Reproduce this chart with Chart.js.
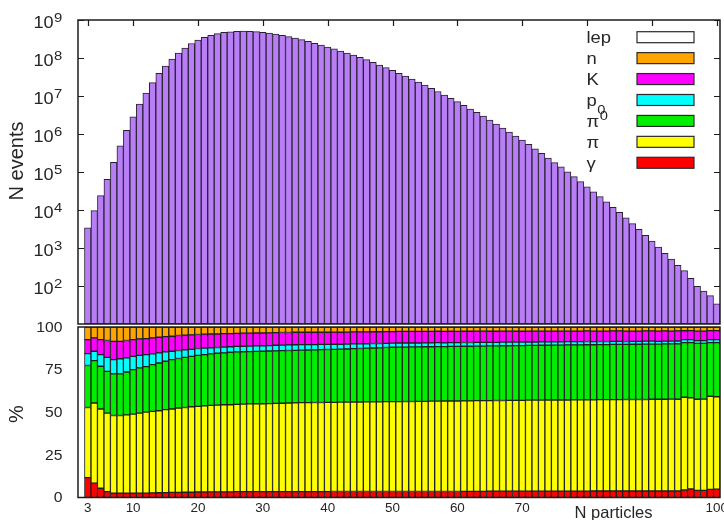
<!DOCTYPE html>
<html>
<head>
<meta charset="utf-8">
<title>Event multiplicity and particle composition</title>
<script src="https://cdn.jsdelivr.net/npm/chart.js@4.4.1/dist/chart.umd.min.js"></script>
<style>
  html, body { margin: 0; padding: 0; background: #ffffff; overflow: hidden; }
  #page { position: relative; width: 724px; height: 520px; }
  .panel { position: absolute; left: 0; width: 724px; }
  #eventsBox { top: 0; height: 325px; }
  #shareBox { top: 305px; height: 215px; }
</style>
</head>
<body>
<div id="page">
  <div class="panel" id="eventsBox"><canvas id="eventsChart"></canvas></div>
  <div class="panel" id="shareBox"><canvas id="shareChart"></canvas></div>
</div>
<script>
// ---- data -------------------------------------------------------------
const nParticles = [
  3, 4, 5, 6, 7, 8, 9, 10, 11, 12,
  13, 14, 15, 16, 17, 18, 19, 20, 21, 22,
  23, 24, 25, 26, 27, 28, 29, 30, 31, 32,
  33, 34, 35, 36, 37, 38, 39, 40, 41, 42,
  43, 44, 45, 46, 47, 48, 49, 50, 51, 52,
  53, 54, 55, 56, 57, 58, 59, 60, 61, 62,
  63, 64, 65, 66, 67, 68, 69, 70, 71, 72,
  73, 74, 75, 76, 77, 78, 79, 80, 81, 82,
  83, 84, 85, 86, 87, 88, 89, 90, 91, 92,
  93, 94, 95, 96, 97, 98, 99, 100
];
const xTickValues = [3, 10, 20, 30, 40, 50, 60, 70, 80, 90, 100];
const eventDecades = [2, 3, 4, 5, 6, 7, 8, 9];
const percentTicks = [0, 25, 50, 75, 100];

// number of events per multiplicity
const nEvents = [
  3420, 9590, 23800, 64300, 1.80e5, 4.92e5, 1.25e6, 2.85e6, 6.15e6, 1.20e7,
  2.24e7, 3.96e7, 6.16e7, 9.42e7, 1.35e8, 1.83e8, 2.41e8, 2.94e8, 3.51e8, 3.96e8,
  4.36e8, 4.72e8, 4.92e8, 5.07e8, 5.14e8, 5.07e8, 4.95e8, 4.75e8, 4.50e8, 4.23e8,
  3.96e8, 3.66e8, 3.36e8, 3.05e8, 2.75e8, 2.45e8, 2.20e8, 1.95e8, 1.73e8, 1.53e8,
  1.35e8, 1.19e8, 1.04e8, 9.02e7, 7.71e7, 6.55e7, 5.56e7, 4.72e7, 3.96e7, 3.32e7,
  2.79e7, 2.32e7, 1.94e7, 1.60e7, 1.31e7, 1.06e7, 8.69e6, 7.08e6, 5.69e6, 4.55e6,
  3.72e6, 2.98e6, 2.34e6, 1.83e6, 1.44e6, 1.13e6, 8.86e5, 6.95e5, 5.36e5, 4.10e5,
  3.10e5, 2.34e5, 1.76e5, 1.36e5, 1.01e5, 7.52e4, 5.56e4, 4.10e4, 3.03e4, 2.24e4,
  1.63e4, 1.18e4, 8700, 6240, 4390, 3100, 2160, 1530, 1060, 726,
  514, 352, 253, 160, 98, 74, 56, 34
];

// share of each particle species, percent
const shareGamma = [
  11.7, 8.4, 5.4, 3.4, 2.5, 2.5, 2.5, 2.5, 2.6, 2.6,
  2.7, 2.8, 2.9, 3.0, 3.0, 3.1, 3.1, 3.2, 3.2, 3.3,
  3.3, 3.3, 3.3, 3.4, 3.4, 3.4, 3.4, 3.4, 3.4, 3.4,
  3.4, 3.4, 3.4, 3.4, 3.4, 3.4, 3.4, 3.4, 3.5, 3.5,
  3.5, 3.5, 3.5, 3.5, 3.5, 3.5, 3.5, 3.5, 3.5, 3.5,
  3.5, 3.5, 3.5, 3.5, 3.5, 3.5, 3.5, 3.5, 3.6, 3.6,
  3.6, 3.6, 3.7, 3.7, 3.7, 3.7, 3.7, 3.7, 3.7, 3.7,
  3.7, 3.7, 3.7, 3.7, 3.7, 3.7, 3.7, 3.7, 3.8, 3.8,
  3.8, 3.8, 3.8, 3.8, 3.8, 3.8, 3.8, 3.8, 3.8, 3.8,
  3.8, 3.8, 4.4, 5.0, 4.2, 4.2, 4.8, 4.9
];
const sharePi = [
  41.1, 47.0, 46.5, 46.1, 45.6, 45.6, 46.0, 46.4, 46.9, 47.5,
  47.8, 48.1, 48.6, 48.9, 49.5, 49.7, 50.1, 50.2, 50.6, 50.7,
  50.9, 51.1, 51.1, 51.2, 51.4, 51.5, 51.6, 51.6, 51.7, 51.8,
  51.9, 52.0, 52.1, 52.2, 52.2, 52.3, 52.3, 52.4, 52.3, 52.4,
  52.4, 52.5, 52.5, 52.6, 52.6, 52.6, 52.7, 52.7, 52.7, 52.8,
  52.8, 52.9, 52.9, 53.0, 53.0, 53.1, 53.1, 53.1, 53.1, 53.1,
  53.2, 53.2, 53.1, 53.2, 53.2, 53.3, 53.3, 53.3, 53.4, 53.4,
  53.4, 53.5, 53.5, 53.5, 53.5, 53.6, 53.6, 53.6, 53.5, 53.6,
  53.6, 53.6, 53.6, 53.7, 53.7, 53.7, 53.7, 53.8, 53.8, 53.8,
  53.9, 53.8, 54.4, 53.5, 53.4, 53.5, 54.6, 54.2
];
const sharePi0 = [
  24.6, 24.9, 25.1, 24.5, 24.4, 24.4, 25.1, 26.1, 26.5, 26.7,
  27.4, 28.0, 28.4, 29.0, 29.0, 29.4, 29.6, 30.0, 30.0, 30.2,
  30.4, 30.4, 30.8, 30.8, 30.7, 30.7, 30.7, 30.8, 30.8, 30.8,
  30.8, 30.8, 30.8, 30.8, 30.9, 30.9, 31.0, 31.0, 31.1, 31.1,
  31.2, 31.3, 31.4, 31.5, 31.6, 31.7, 31.8, 31.9, 32.0, 31.9,
  32.0, 31.9, 32.0, 31.9, 32.0, 31.9, 32.0, 32.0, 32.0, 32.0,
  32.0, 32.0, 32.1, 32.0, 32.1, 32.0, 32.1, 32.1, 32.1, 32.1,
  32.2, 32.1, 32.2, 32.2, 32.3, 32.2, 32.2, 32.3, 32.3, 32.3,
  32.3, 32.4, 32.4, 32.3, 32.4, 32.4, 32.5, 32.4, 32.4, 32.5,
  32.4, 32.6, 32.0, 32.3, 32.8, 32.7, 31.4, 31.7
];
const shareP0 = [
  7.0, 5.5, 6.8, 8.2, 8.4, 8.9, 8.3, 7.8, 7.4, 7.0,
  6.3, 5.9, 5.5, 4.9, 4.7, 4.4, 4.1, 4.0, 3.8, 3.6,
  3.4, 3.4, 3.2, 3.2, 3.2, 3.2, 3.2, 3.2, 3.2, 3.3,
  3.3, 3.3, 3.3, 3.3, 3.2, 3.1, 3.1, 3.0, 3.0, 2.9,
  2.9, 2.8, 2.7, 2.6, 2.6, 2.5, 2.4, 2.4, 2.4, 2.4,
  2.3, 2.3, 2.3, 2.3, 2.3, 2.2, 2.2, 2.2, 2.2, 2.2,
  2.2, 2.2, 2.1, 2.1, 2.1, 2.1, 2.0, 2.0, 2.0, 2.0,
  2.0, 2.0, 1.9, 1.9, 1.9, 1.9, 1.9, 1.9, 1.8, 1.8,
  1.8, 1.8, 1.8, 1.7, 1.7, 1.7, 1.7, 1.7, 1.6, 1.6,
  1.6, 1.6, 1.8, 1.8, 1.6, 1.6, 1.8, 1.8
];
const shareK = [
  8.2, 7.8, 8.8, 9.9, 10.7, 10.2, 10.2, 9.8, 9.6, 9.4,
  9.4, 9.2, 9.0, 8.8, 8.8, 8.6, 8.5, 8.2, 8.2, 8.1,
  7.9, 7.9, 7.7, 7.7, 7.7, 7.6, 7.6, 7.5, 7.5, 7.4,
  7.4, 7.3, 7.3, 7.2, 7.2, 7.2, 7.1, 7.1, 7.1, 7.0,
  7.0, 7.0, 7.0, 6.9, 6.9, 6.9, 6.9, 6.8, 6.8, 6.8,
  6.8, 6.8, 6.7, 6.7, 6.7, 6.7, 6.7, 6.6, 6.6, 6.6,
  6.6, 6.6, 6.5, 6.5, 6.5, 6.5, 6.4, 6.4, 6.4, 6.4,
  6.3, 6.3, 6.3, 6.3, 6.2, 6.2, 6.2, 6.2, 6.2, 6.1,
  6.1, 6.1, 6.1, 6.1, 6.0, 6.0, 6.0, 6.0, 6.0, 6.0,
  5.9, 5.9, 5.2, 5.3, 5.6, 5.6, 5.3, 5.3
];
const shareN = [
  7.4, 6.4, 7.4, 7.9, 8.4, 8.4, 7.9, 7.4, 7.0, 6.8,
  6.4, 6.0, 5.6, 5.4, 5.0, 4.8, 4.6, 4.4, 4.2, 4.1,
  4.1, 3.9, 3.9, 3.7, 3.6, 3.6, 3.5, 3.5, 3.4, 3.3,
  3.2, 3.2, 3.1, 3.1, 3.1, 3.1, 3.1, 3.1, 3.0, 3.1,
  3.0, 2.9, 2.9, 2.9, 2.8, 2.8, 2.7, 2.7, 2.6, 2.6,
  2.6, 2.6, 2.6, 2.6, 2.5, 2.6, 2.5, 2.6, 2.5, 2.5,
  2.4, 2.4, 2.5, 2.5, 2.4, 2.4, 2.5, 2.5, 2.4, 2.4,
  2.4, 2.4, 2.4, 2.4, 2.4, 2.4, 2.4, 2.3, 2.4, 2.4,
  2.4, 2.3, 2.3, 2.4, 2.4, 2.4, 2.3, 2.3, 2.4, 2.3,
  2.4, 2.3, 2.2, 2.1, 2.4, 2.4, 2.1, 2.1
];
const shareLep = [
  0, 0, 0, 0, 0, 0, 0, 0, 0, 0,
  0, 0, 0, 0, 0, 0, 0, 0, 0, 0,
  0, 0, 0, 0, 0, 0, 0, 0, 0, 0,
  0, 0, 0, 0, 0, 0, 0, 0, 0, 0,
  0, 0, 0, 0, 0, 0, 0, 0, 0, 0,
  0, 0, 0, 0, 0, 0, 0, 0, 0, 0,
  0, 0, 0, 0, 0, 0, 0, 0, 0, 0,
  0, 0, 0, 0, 0, 0, 0, 0, 0, 0,
  0, 0, 0, 0, 0, 0, 0, 0, 0, 0,
  0, 0, 0, 0, 0, 0, 0, 0
];

// species, stacked from the bottom up ('_' subscript, '^' superscript)
const speciesLabels = ['γ', 'π', 'π^0', 'p_0', 'K', 'n', 'lep'];
const speciesShares = [shareGamma, sharePi, sharePi0, shareP0, shareK, shareN, shareLep];
const speciesColors = ['#ff0000', '#ffff00', '#00ee00', '#00ffff', '#ff00ff', '#ffa500', '#ffffff'];

// ---- drawing helpers --------------------------------------------------
const FONT = '"Liberation Sans", Arial, Helvetica, sans-serif';
const INK = '#262626';
const FRAME = '#1c1c1c';
const SHARE_TOP = 305;   // page offset of the lower canvas

function textAt(ctx, txt, x, y, size, align, baseline, sx) {
  ctx.save();
  ctx.font = size + 'px ' + FONT;
  ctx.fillStyle = INK;
  ctx.textAlign = align;
  ctx.textBaseline = baseline;
  ctx.translate(x, y);
  ctx.scale(sx || 1, 1);
  ctx.fillText(txt, 0, 0);
  ctx.restore();
}

function richText(ctx, label, x, baseY, size, sx) {
  const m = label.match(/^([^_^]+)(?:([_^])(.+))?$/);
  ctx.save();
  ctx.fillStyle = INK;
  ctx.translate(x, baseY);
  ctx.scale(sx || 1, 1);
  ctx.textAlign = 'left';
  ctx.textBaseline = 'alphabetic';
  ctx.font = size + 'px ' + FONT;
  ctx.fillText(m[1], 0, 0);
  if (m[2]) {
    const w = ctx.measureText(m[1]).width;
    ctx.font = (size * 0.8) + 'px ' + FONT;
    ctx.fillText(m[3], w + 0.5, m[2] === '^' ? -size * 0.45 : size * 0.5);
  }
  ctx.restore();
}

function rotatedTitle(ctx, txt, cx, cy, size) {
  ctx.save();
  ctx.translate(cx, cy);
  ctx.rotate(-Math.PI / 2);
  ctx.font = size + 'px ' + FONT;
  ctx.fillStyle = INK;
  ctx.textAlign = 'center';
  ctx.textBaseline = 'middle';
  ctx.fillText(txt, 0, 0);
  ctx.restore();
}

function frameBox(ctx, a) {
  ctx.save();
  ctx.strokeStyle = FRAME;
  ctx.lineWidth = 1.5;
  ctx.strokeRect(a.left, a.top, a.right - a.left, a.bottom - a.top);
  ctx.restore();
}

// ---- upper panel: events per multiplicity -------------------------------
const eventsDecor = {
  id: 'eventsDecor',
  afterDraw(chart) {
    const { ctx, chartArea: a, scales } = chart;
    const x = scales.x, y = scales.y;
    frameBox(ctx, a);

    ctx.save();
    ctx.strokeStyle = FRAME;
    ctx.lineWidth = 1.2;
    ctx.beginPath();
    y.ticks.forEach(t => {
      const py = Math.round(y.getPixelForValue(t.value)) + 0.5;
      ctx.moveTo(a.left, py); ctx.lineTo(a.left + 6, py);
      ctx.moveTo(a.right - 6, py); ctx.lineTo(a.right, py);
    });
    x.ticks.forEach(t => {
      const px = Math.round(x.getPixelForValue(t.value)) + 0.5;
      ctx.moveTo(px, a.top); ctx.lineTo(px, a.top + 6);
    });
    ctx.stroke();
    ctx.restore();

    y.ticks.forEach(t => {
      const py = y.getPixelForValue(t.value);
      const p = Math.round(Math.log10(t.value));
      textAt(ctx, '10', a.left - 24.5, py + 3.5, 16, 'right', 'middle', 1.13);
      textAt(ctx, String(p), a.left - 24, py + 1.5, 13.5, 'left', 'alphabetic', 1.1);
    });

    rotatedTitle(ctx, 'N events', 17, 161, 20);

    // key, listed top-down
    const rowTop = 37.2, rowStep = 20.93;
    for (let i = speciesLabels.length - 1, row = 0; i >= 0; i--, row++) {
      const cy = rowTop + row * rowStep;
      richText(ctx, speciesLabels[i], 586.5, cy + 6, 16, 1.15);
      ctx.save();
      ctx.fillStyle = speciesColors[i];
      ctx.strokeStyle = '#2a2a2a';
      ctx.lineWidth = 1.2;
      ctx.fillRect(637, cy - 5.5, 57, 11);
      ctx.strokeRect(637, cy - 5.5, 57, 11);
      ctx.restore();
    }
  }
};

new Chart(document.getElementById('eventsChart'), {
  type: 'bar',
  data: {
    datasets: [{
      label: 'N events',
      data: nParticles.map((n, i) => ({ x: n, y: nEvents[i] })),
      backgroundColor: '#b77ef6',
      borderColor: '#2a2033',
      borderWidth: 1,
      borderSkipped: false,
      barPercentage: 1,
      categoryPercentage: 1
    }]
  },
  options: {
    responsive: true,
    maintainAspectRatio: false,
    animation: false,
    devicePixelRatio: 1,
    layout: { padding: { left: 78, right: 4, top: 20, bottom: 1 } },
    plugins: { legend: { display: false }, tooltip: { enabled: false } },
    scales: {
      x: {
        type: 'linear', display: false, min: 1.5, max: 100.5, offset: false, bounds: 'data',
        afterBuildTicks: s => { s.ticks = xTickValues.map(v => ({ value: v })); }
      },
      y: {
        type: 'logarithmic', display: false, min: 10, max: 1e9,
        afterBuildTicks: s => { s.ticks = eventDecades.map(p => ({ value: Math.pow(10, p) })); }
      }
    }
  },
  plugins: [eventsDecor]
});

// ---- lower panel: species composition ---------------------------------
const shareDecor = {
  id: 'shareDecor',
  afterDraw(chart) {
    const { ctx, chartArea: a, scales } = chart;
    const x = scales.x, y = scales.y;
    frameBox(ctx, a);

    y.ticks.forEach(t => {
      const py = y.getPixelForValue(t.value);
      textAt(ctx, String(t.value), 62.5, py + 1, 14, 'right', 'middle', 1.12);
    });
    x.ticks.forEach(t => {
      const px = x.getPixelForValue(t.value);
      textAt(ctx, String(t.value), px, 509 - SHARE_TOP, 12, 'center', 'middle', 1.12);
    });

    rotatedTitle(ctx, '%', 17, 414 - SHARE_TOP, 20);

    // axis title on an opaque box, over the tick labels it crosses
    ctx.save();
    ctx.font = '16.5px ' + FONT;
    const w = ctx.measureText('N particles').width;
    ctx.fillStyle = '#ffffff';
    ctx.fillRect(613.5 - w / 2 - 8, 502 - SHARE_TOP, w + 24, 20);
    ctx.restore();
    textAt(ctx, 'N particles', 613.5, 518 - SHARE_TOP, 16.5, 'center', 'alphabetic', 1);
  }
};

new Chart(document.getElementById('shareChart'), {
  type: 'bar',
  data: {
    datasets: speciesLabels.map((label, k) => ({
      label: label,
      data: nParticles.map((n, i) => ({ x: n, y: speciesShares[k][i] })),
      backgroundColor: speciesColors[k],
      borderColor: '#1f1f1f',
      borderWidth: 1,
      borderSkipped: false,
      barPercentage: 1,
      categoryPercentage: 1
    }))
  },
  options: {
    responsive: true,
    maintainAspectRatio: false,
    animation: false,
    devicePixelRatio: 1,
    layout: { padding: { left: 78, right: 4, top: 327 - SHARE_TOP, bottom: 520 - 497.5 } },
    plugins: { legend: { display: false }, tooltip: { enabled: false } },
    scales: {
      x: {
        type: 'linear', display: false, stacked: true, min: 1.5, max: 100.5, offset: false, bounds: 'data',
        afterBuildTicks: s => { s.ticks = xTickValues.map(v => ({ value: v })); }
      },
      y: {
        type: 'linear', display: false, stacked: true, min: 0, max: 100, bounds: 'data',
        afterBuildTicks: s => { s.ticks = percentTicks.map(v => ({ value: v })); }
      }
    }
  },
  plugins: [shareDecor]
});
</script>
</body>
</html>
